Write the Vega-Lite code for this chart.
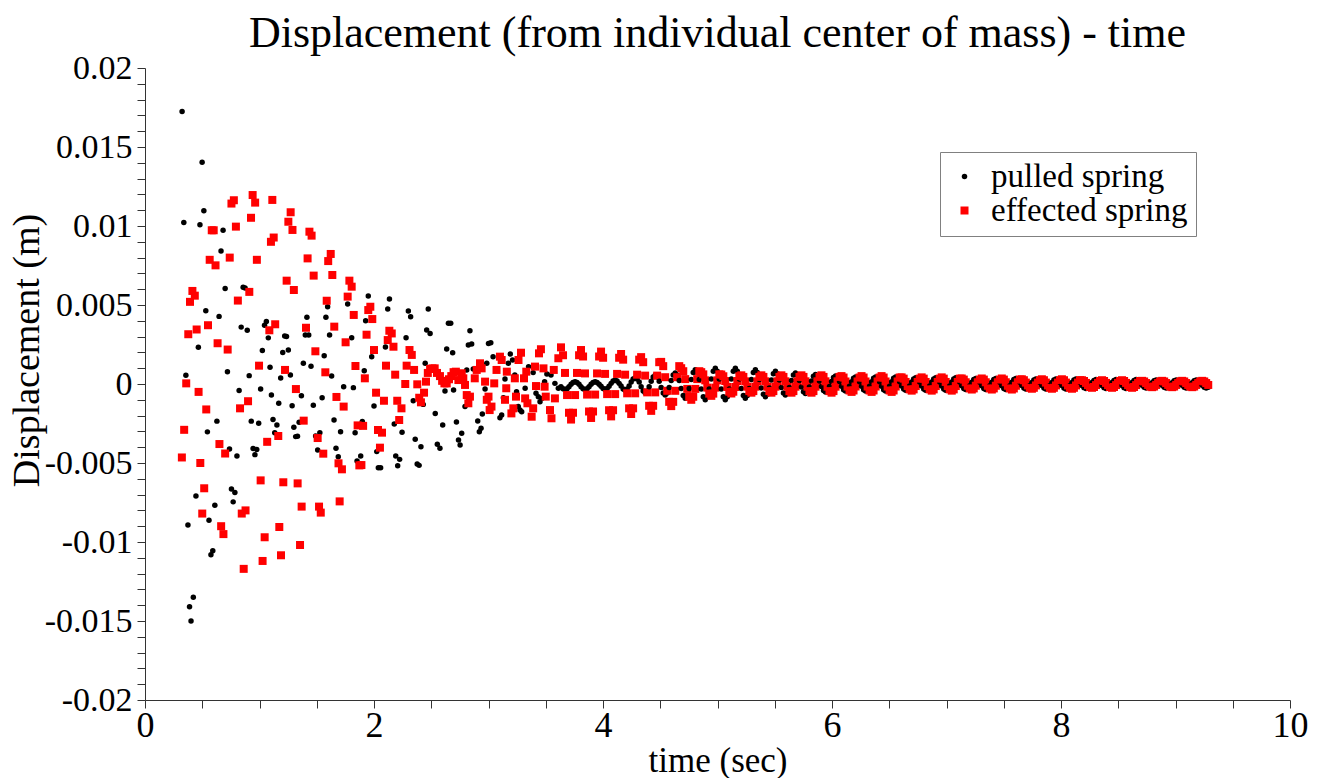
{
"$schema":"https://vega.github.io/schema/vega-lite/v6.json",
"width":1145,"height":632,
"autosize":{"type":"none"},
"padding":{"left":145,"top":68,"right":34,"bottom":78},
"background":"white",
"title":{"text":"Displacement (from individual center of mass) - time","font":"Liberation Serif","fontSize":44,"fontWeight":"normal","color":"black","anchor":"middle","offset":-5},
"config":{"view":{"stroke":null}},
"data":{"values":[
{"t":0.324,"p":0.01724},{"t":0.339,"p":0.01022},{"t":0.357,"p":0.00055},{"t":0.375,"p":-0.00892},{"t":0.389,"p":-0.0141},{"t":0.402,"p":-0.015},{"t":0.422,"p":-0.0135},{"t":0.445,"p":-0.00709},{"t":0.466,"p":0.00232},{"t":0.48,"p":0.01008},{"t":0.499,"p":0.01404},{"t":0.514,"p":0.01096},{"t":0.531,"p":0.00463},{"t":0.545,"p":-0.00303},{"t":0.559,"p":-0.00862},{"t":0.576,"p":-0.0108},{"t":0.592,"p":-0.01056},{"t":0.61,"p":-0.00768},{"t":0.628,"p":-0.00235},{"t":0.647,"p":0.00428},{"t":0.664,"p":0.00842},{"t":0.682,"p":0.00973},{"t":0.7,"p":0.00605},{"t":0.72,"p":0.00078},{"t":0.738,"p":-0.00412},{"t":0.755,"p":-0.00665},{"t":0.77,"p":-0.00746},{"t":0.785,"p":-0.00687},{"t":0.803,"p":-0.00456},{"t":0.822,"p":-0.00041},{"t":0.84,"p":0.0036},{"t":0.857,"p":0.00613},{"t":0.874,"p":0.00607},{"t":0.893,"p":0.0034},{"t":0.91,"p":0.00053},{"t":0.928,"p":-0.00235},{"t":0.944,"p":-0.00408},{"t":0.96,"p":-0.00447},{"t":0.976,"p":-0.00415},{"t":0.993,"p":-0.00249},{"t":1.01,"p":-0.00032},{"t":1.025,"p":0.00212},{"t":1.044,"p":0.00372},{"t":1.06,"p":0.00395},{"t":1.077,"p":0.00292},{"t":1.092,"p":0.00106},{"t":1.104,"p":-0.0007},{"t":1.118,"p":-0.00224},{"t":1.133,"p":-0.00308},{"t":1.152,"p":-0.00259},{"t":1.168,"p":-0.00122},{"t":1.185,"p":0.00038},{"t":1.203,"p":0.002},{"t":1.22,"p":0.00304},{"t":1.236,"p":0.003},{"t":1.252,"p":0.00215},{"t":1.27,"p":0.00057},{"t":1.285,"p":-0.00137},{"t":1.3,"p":-0.00274},{"t":1.316,"p":-0.00333},{"t":1.332,"p":-0.0033},{"t":1.346,"p":-0.00242},{"t":1.366,"p":-0.00074},{"t":1.383,"p":0.00131},{"t":1.4,"p":0.0031},{"t":1.414,"p":0.00422},{"t":1.43,"p":0.0031},{"t":1.45,"p":0.00112},{"t":1.47,"p":-0.00135},{"t":1.49,"p":-0.00329},{"t":1.508,"p":-0.00418},{"t":1.527,"p":-0.00308},{"t":1.547,"p":-0.00087},{"t":1.565,"p":0.00179},{"t":1.58,"p":0.00422},{"t":1.595,"p":0.00489},{"t":1.612,"p":0.0031},{"t":1.63,"p":0.00051},{"t":1.651,"p":-0.00228},{"t":1.668,"p":-0.00407},{"t":1.688,"p":-0.0046},{"t":1.708,"p":-0.00302},{"t":1.735,"p":-0.00017},{"t":1.77,"p":0.00506},{"t":1.805,"p":0.00293},{"t":1.82,"p":-0.00023},{"t":1.835,"p":-0.00308},{"t":1.852,"p":-0.00487},{"t":1.884,"p":-0.00456},{"t":1.898,"p":-0.00238},{"t":1.915,"p":0.00084},{"t":1.927,"p":0.004},{"t":1.95,"p":0.00557},{"t":1.98,"p":0.00173},{"t":2.0,"p":-0.00139},{"t":2.024,"p":-0.00428},{"t":2.038,"p":-0.0053},{"t":2.058,"p":-0.0053},{"t":2.1,"p":0.00234},{"t":2.12,"p":0.00475},{"t":2.135,"p":0.00538},{"t":2.177,"p":-0.00253},{"t":2.19,"p":-0.00456},{"t":2.207,"p":-0.00517},{"t":2.224,"p":-0.00477},{"t":2.245,"p":-0.00306},{"t":2.28,"p":0.00293},{"t":2.3,"p":0.00462},{"t":2.32,"p":0.00426},{"t":2.343,"p":-0.00106},{"t":2.36,"p":-0.0035},{"t":2.377,"p":-0.00506},{"t":2.394,"p":-0.00515},{"t":2.41,"p":-0.00397},{"t":2.43,"p":-0.00129},{"t":2.447,"p":0.00131},{"t":2.46,"p":0.00342},{"t":2.474,"p":0.00475},{"t":2.49,"p":0.0032},{"t":2.535,"p":-0.00186},{"t":2.553,"p":-0.00382},{"t":2.576,"p":-0.00407},{"t":2.6,"p":-0.00259},{"t":2.62,"p":-0.00044},{"t":2.635,"p":0.00222},{"t":2.65,"p":0.00384},{"t":2.67,"p":0.00384},{"t":2.687,"p":0.00198},{"t":2.695,"p":-0.00038},{"t":2.72,"p":-0.0024},{"t":2.738,"p":-0.00354},{"t":2.752,"p":-0.00386},{"t":2.766,"p":-0.00312},{"t":2.795,"p":-0.00143},{"t":2.81,"p":0.00089},{"t":2.824,"p":0.00247},{"t":2.838,"p":0.00337},{"t":2.853,"p":0.00253},{"t":2.867,"p":0.00095},{"t":2.906,"p":-0.00234},{"t":2.92,"p":-0.00302},{"t":2.935,"p":-0.0028},{"t":2.946,"p":-0.0019},{"t":2.97,"p":-0.00032},{"t":2.985,"p":0.00131},{"t":3.0,"p":0.00257},{"t":3.02,"p":0.00261},{"t":3.04,"p":0.00173},{"t":3.1,"p":-0.00213},{"t":3.115,"p":-0.00196},{"t":3.13,"p":-0.00087},{"t":3.144,"p":0.00032},{"t":3.173,"p":0.00131},{"t":3.19,"p":0.0019},{"t":3.21,"p":0.00152},{"t":3.23,"p":0.00057},{"t":3.245,"p":-0.00049},{"t":3.26,"p":-0.00143},{"t":3.275,"p":-0.00165},{"t":3.29,"p":-0.00175},{"t":3.32,"p":-0.00027},{"t":3.35,"p":0.0011},{"t":3.39,"p":0.00072},{"t":3.415,"p":-0.00059},{"t":3.435,"p":-0.0008},{"t":3.45,"p":-0.00112},{"t":3.465,"p":-0.00091},{"t":3.49,"p":0.00015},{"t":3.51,"p":0.00063},{"t":3.546,"p":0.00057},{"t":3.58,"p":0.00004},{"t":3.61,"p":-0.00027},{"t":3.633,"p":-0.00018},
{"t":0.322,"e":-0.00465},{"t":0.342,"e":-0.0029},{"t":0.36,"e":0.00004},{"t":0.378,"e":0.00315},{"t":0.393,"e":0.0052},{"t":0.414,"e":0.00589},{"t":0.435,"e":0.00559},{"t":0.451,"e":0.00345},{"t":0.468,"e":-0.0005},{"t":0.483,"e":-0.005},{"t":0.5,"e":-0.0082},{"t":0.517,"e":-0.0066},{"t":0.535,"e":-0.00161},{"t":0.55,"e":0.00372},{"t":0.565,"e":0.00786},{"t":0.583,"e":0.00973},{"t":0.6,"e":0.00973},{"t":0.616,"e":0.00751},{"t":0.634,"e":0.00258},{"t":0.65,"e":-0.0038},{"t":0.665,"e":-0.009},{"t":0.685,"e":-0.0095},{"t":0.7,"e":-0.0044},{"t":0.722,"e":0.00218},{"t":0.74,"e":0.008},{"t":0.755,"e":0.01142},{"t":0.776,"e":0.01163},{"t":0.794,"e":0.00996},{"t":0.811,"e":0.00528},{"t":0.83,"e":-0.00154},{"t":0.845,"e":-0.0082},{"t":0.862,"e":-0.0117},{"t":0.878,"e":-0.008},{"t":0.9,"e":-0.00109},{"t":0.911,"e":0.00583},{"t":0.926,"e":0.01052},{"t":0.94,"e":0.01196},{"t":0.962,"e":0.01148},{"t":0.977,"e":0.00786},{"t":0.996,"e":0.00116},{"t":1.01,"e":-0.0061},{"t":1.027,"e":-0.0112},{"t":1.045,"e":-0.0097},{"t":1.067,"e":-0.00366},{"t":1.086,"e":0.0034},{"t":1.1,"e":0.009},{"t":1.112,"e":0.01165},{"t":1.124,"e":0.00927},{"t":1.137,"e":0.00378},{"t":1.164,"e":-0.00329},{"t":1.173,"e":-0.00905},{"t":1.188,"e":-0.01084},{"t":1.208,"e":-0.00622},{"t":1.223,"e":0.00089},{"t":1.237,"e":0.00654},{"t":1.252,"e":0.01027},{"t":1.272,"e":0.01087},{"t":1.288,"e":0.00975},{"t":1.3,"e":0.00595},{"t":1.318,"e":-0.00032},{"t":1.333,"e":-0.00629},{"t":1.354,"e":-0.01019},{"t":1.368,"e":-0.00776},{"t":1.386,"e":-0.00232},{"t":1.406,"e":0.00356},{"t":1.42,"e":0.00795},{"t":1.436,"e":0.00964},{"t":1.455,"e":0.00939},{"t":1.473,"e":0.00686},{"t":1.488,"e":0.00207},{"t":1.508,"e":-0.00342},{"t":1.52,"e":-0.00776},{"t":1.535,"e":-0.00814},{"t":1.557,"e":-0.00441},{"t":1.575,"e":0.00074},{"t":1.587,"e":0.00527},{"t":1.6,"e":0.00778},{"t":1.622,"e":0.00823},{"t":1.636,"e":0.0069},{"t":1.653,"e":0.00363},{"t":1.672,"e":-0.00082},{"t":1.69,"e":-0.00502},{"t":1.7,"e":-0.00743},{"t":1.72,"e":-0.0054},{"t":1.735,"e":-0.00143},{"t":1.752,"e":0.00264},{"t":1.77,"e":0.00553},{"t":1.785,"e":0.00654},{"t":1.805,"e":0.00616},{"t":1.823,"e":0.00437},{"t":1.838,"e":0.00114},{"t":1.857,"e":-0.00262},{"t":1.872,"e":-0.00515},{"t":1.89,"e":-0.00513},{"t":1.905,"e":-0.00265},{"t":1.92,"e":0.00036},{"t":1.935,"e":0.00312},{"t":1.95,"e":0.00468},{"t":1.968,"e":0.00489},{"t":1.985,"e":0.00411},{"t":2.0,"e":0.00215},{"t":2.018,"e":-0.00055},{"t":2.035,"e":-0.00291},{"t":2.052,"e":-0.00403},{"t":2.07,"e":-0.00308},{"t":2.087,"e":-0.00106},{"t":2.105,"e":0.00116},{"t":2.12,"e":0.00278},{"t":2.134,"e":0.00337},{"t":2.155,"e":0.0032},{"t":2.17,"e":0.00236},{"t":2.185,"e":0.00059},{"t":2.203,"e":-0.00106},{"t":2.22,"e":-0.00228},{"t":2.24,"e":-0.00154},{"t":2.273,"e":0.0},{"t":2.285,"e":0.00116},{"t":2.31,"e":0.00215},{"t":2.33,"e":0.00184},{"t":2.35,"e":0.00089},{"t":2.378,"e":-0.00002},{"t":2.395,"e":-0.00087},{"t":2.41,"e":-0.00116},{"t":2.437,"e":-0.00055},{"t":2.454,"e":0.00015},{"t":2.47,"e":0.0007},{"t":2.49,"e":0.00095},{"t":2.51,"e":0.00099},{"t":2.53,"e":0.00099},{"t":2.55,"e":0.0007},{"t":2.576,"e":0.0005},{"t":2.595,"e":0.0002},{"t":2.615,"e":0.00004},{"t":2.635,"e":0.00004},{"t":2.655,"e":0.0003},{"t":2.675,"e":0.0005},{"t":2.695,"e":0.00075},{"t":2.715,"e":0.00078},{"t":2.737,"e":0.00025},{"t":2.766,"e":0.00068},{"t":2.78,"e":0.00036},{"t":2.795,"e":-0.00006},{"t":2.81,"e":-0.0007},{"t":2.824,"e":-0.00122},{"t":2.838,"e":-0.0008},{"t":2.88,"e":0.00036},{"t":2.897,"e":0.00089},{"t":2.926,"e":0.00131},{"t":2.94,"e":0.00099},{"t":2.97,"e":0.00015},{"t":2.985,"e":-0.001},{"t":3.0,"e":-0.0008},{"t":3.01,"e":-0.00165},{"t":3.026,"e":-0.00143},{"t":3.05,"e":0.00004},{"t":3.07,"e":0.00089},{"t":3.1,"e":0.00173},{"t":3.115,"e":0.00152},{"t":3.144,"e":-0.001},{"t":3.155,"e":-0.00027},{"t":3.16,"e":0.00078},{"t":3.2,"e":-0.00186},{"t":3.217,"e":-0.00154},{"t":3.23,"e":0.00036},{"t":3.24,"e":-0.0008},{"t":3.262,"e":0.00152},{"t":3.284,"e":0.00198},{"t":3.31,"e":0.00036},{"t":3.32,"e":-0.00091},{"t":3.33,"e":0.00078},{"t":3.34,"e":-0.00122},{"t":3.377,"e":-0.00207},{"t":3.39,"e":-0.00154},{"t":3.406,"e":0.0011},{"t":3.415,"e":-0.00013},{"t":3.441,"e":0.00194},{"t":3.458,"e":0.0022},{"t":3.48,"e":0.00099},{"t":3.49,"e":-0.00017},{"t":3.5,"e":-0.0008},{"t":3.537,"e":-0.00165},{"t":3.55,"e":-0.00217},{"t":3.57,"e":0.00089},{"t":3.58,"e":-0.00091},{"t":3.61,"e":0.00163},{"t":3.633,"e":0.00232},
{"t":3.651,"e":0.00182,"p":-0.0003},{"t":3.668,"e":0.0007,"p":-0.00035},{"t":3.686,"e":-0.0007,"p":-0.0003},{"t":3.703,"e":-0.00182,"p":-0.00018},{"t":3.721,"e":-0.00225,"p":-0.00002},{"t":3.738,"e":-0.00182,"p":0.0001},{"t":3.756,"e":-0.0007,"p":0.00015},{"t":3.773,"e":0.0007,"p":0.0001},{"t":3.791,"e":0.00182,"p":-0.00002},
{"t":3.808,"e":0.00215,"p":-0.00018},{"t":3.826,"e":0.00174,"p":-0.0003},{"t":3.843,"e":0.00067,"p":-0.00035},{"t":3.861,"e":-0.00067,"p":-0.0003},{"t":3.878,"e":-0.00174,"p":-0.00018},{"t":3.896,"e":-0.00215,"p":-0.00002},{"t":3.913,"e":-0.00174,"p":0.0001},{"t":3.931,"e":-0.00067,"p":0.00015},{"t":3.948,"e":0.00067,"p":0.0001},{"t":3.966,"e":0.00174,"p":-0.00002},
{"t":3.983,"e":0.00205,"p":-0.00014},{"t":4.001,"e":0.00166,"p":-0.00029},{"t":4.018,"e":0.00064,"p":-0.00035},{"t":4.036,"e":-0.00064,"p":-0.00029},{"t":4.053,"e":-0.00166,"p":-0.00014},{"t":4.071,"e":-0.00205,"p":0.00004},{"t":4.088,"e":-0.00166,"p":0.00019},{"t":4.106,"e":-0.00064,"p":0.00025},{"t":4.123,"e":0.00064,"p":0.00019},{"t":4.141,"e":0.00166,"p":0.00004},
{"t":4.158,"e":0.0019,"p":-0.00012},{"t":4.176,"e":0.00154,"p":-0.00032},{"t":4.193,"e":0.00059,"p":-0.0004},{"t":4.211,"e":-0.00059,"p":-0.00032},{"t":4.228,"e":-0.00154,"p":-0.00012},{"t":4.246,"e":-0.0019,"p":0.00012},{"t":4.263,"e":-0.00154,"p":0.00032},{"t":4.281,"e":-0.00059,"p":0.0004},{"t":4.298,"e":0.00059,"p":0.00032},{"t":4.316,"e":0.00154,"p":0.00012},
{"t":4.333,"e":0.0017,"p":-0.00017},{"t":4.351,"e":0.00138,"p":-0.00045},{"t":4.368,"e":0.00053,"p":-0.00055},{"t":4.386,"e":-0.00053,"p":-0.00045},{"t":4.403,"e":-0.00138,"p":-0.00017},{"t":4.421,"e":-0.0017,"p":0.00017},{"t":4.438,"e":-0.00138,"p":0.00045},{"t":4.456,"e":-0.00053,"p":0.00055},{"t":4.473,"e":0.00053,"p":0.00045},{"t":4.491,"e":0.00138,"p":0.00017},
{"t":4.508,"e":0.0014,"p":-0.00022},{"t":4.526,"e":0.00113,"p":-0.00057},{"t":4.543,"e":0.00043,"p":-0.0007},{"t":4.561,"e":-0.00043,"p":-0.00057},{"t":4.578,"e":-0.00113,"p":-0.00022},{"t":4.596,"e":-0.0014,"p":0.00022},{"t":4.613,"e":-0.00113,"p":0.00057},{"t":4.631,"e":-0.00043,"p":0.0007},{"t":4.648,"e":0.00043,"p":0.00057},{"t":4.666,"e":0.00113,"p":0.00022},
{"t":4.683,"e":0.001,"p":-0.00028},{"t":4.701,"e":0.00081,"p":-0.00073},{"t":4.718,"e":0.00031,"p":-0.0009},{"t":4.736,"e":-0.00031,"p":-0.00073},{"t":4.753,"e":-0.00081,"p":-0.00028},{"t":4.771,"e":-0.001,"p":0.00028},{"t":4.788,"e":-0.00081,"p":0.00073},{"t":4.806,"e":-0.00031,"p":0.0009},{"t":4.823,"e":0.00031,"p":0.00073},{"t":4.841,"e":0.00081,"p":0.00028},
{"t":4.858,"e":0.00075,"p":-0.00031},{"t":4.876,"e":0.00061,"p":-0.00081},{"t":4.893,"e":0.00023,"p":-0.001},{"t":4.911,"e":-0.00023,"p":-0.00081},{"t":4.928,"e":-0.00061,"p":-0.00031},{"t":4.946,"e":-0.00075,"p":0.00031},{"t":4.963,"e":-0.00061,"p":0.00081},{"t":4.981,"e":-0.00023,"p":0.001},{"t":4.998,"e":0.00023,"p":0.00081},{"t":5.016,"e":0.00061,"p":0.00031},
{"t":5.033,"e":0.0006,"p":-0.00031},{"t":5.051,"e":0.00049,"p":-0.00081},{"t":5.068,"e":0.00019,"p":-0.001},{"t":5.086,"e":-0.00019,"p":-0.00081},{"t":5.103,"e":-0.00049,"p":-0.00031},{"t":5.121,"e":-0.0006,"p":0.00031},{"t":5.138,"e":-0.00049,"p":0.00081},{"t":5.156,"e":-0.00019,"p":0.001},{"t":5.173,"e":0.00019,"p":0.00081},{"t":5.191,"e":0.00049,"p":0.00031},
{"t":5.208,"e":0.00055,"p":-0.00028},{"t":5.226,"e":0.00045,"p":-0.00073},{"t":5.243,"e":0.00017,"p":-0.0009},{"t":5.261,"e":-0.00017,"p":-0.00073},{"t":5.278,"e":-0.00045,"p":-0.00028},{"t":5.296,"e":-0.00055,"p":0.00028},{"t":5.313,"e":-0.00045,"p":0.00073},{"t":5.331,"e":-0.00017,"p":0.0009},{"t":5.348,"e":0.00017,"p":0.00073},{"t":5.366,"e":0.00045,"p":0.00028},
{"t":5.383,"e":0.00055,"p":-0.00025},{"t":5.401,"e":0.00045,"p":-0.00065},{"t":5.418,"e":0.00017,"p":-0.0008},{"t":5.436,"e":-0.00017,"p":-0.00065},{"t":5.453,"e":-0.00045,"p":-0.00025},{"t":5.471,"e":-0.00055,"p":0.00025},{"t":5.488,"e":-0.00045,"p":0.00065},{"t":5.506,"e":-0.00017,"p":0.0008},{"t":5.523,"e":0.00017,"p":0.00065},{"t":5.541,"e":0.00045,"p":0.00025},
{"t":5.558,"e":0.00055,"p":-0.00022},{"t":5.576,"e":0.00045,"p":-0.00057},{"t":5.593,"e":0.00017,"p":-0.0007},{"t":5.611,"e":-0.00017,"p":-0.00057},{"t":5.628,"e":-0.00045,"p":-0.00022},{"t":5.646,"e":-0.00055,"p":0.00022},{"t":5.663,"e":-0.00045,"p":0.00057},{"t":5.681,"e":-0.00017,"p":0.0007},{"t":5.698,"e":0.00017,"p":0.00057},{"t":5.716,"e":0.00045,"p":0.00022},
{"t":5.733,"e":0.00055,"p":-0.00019},{"t":5.751,"e":0.00045,"p":-0.00049},{"t":5.768,"e":0.00017,"p":-0.0006},{"t":5.786,"e":-0.00017,"p":-0.00049},{"t":5.803,"e":-0.00045,"p":-0.00019},{"t":5.821,"e":-0.00055,"p":0.00019},{"t":5.838,"e":-0.00045,"p":0.00049},{"t":5.856,"e":-0.00017,"p":0.0006},{"t":5.873,"e":0.00017,"p":0.00049},{"t":5.891,"e":0.00045,"p":0.00019},
{"t":5.908,"e":0.00055,"p":-0.00016},{"t":5.926,"e":0.00045,"p":-0.00041},{"t":5.943,"e":0.00017,"p":-0.0005},{"t":5.961,"e":-0.00017,"p":-0.00041},{"t":5.978,"e":-0.00045,"p":-0.00016},{"t":5.996,"e":-0.00055,"p":0.00016},{"t":6.013,"e":-0.00045,"p":0.00041},{"t":6.031,"e":-0.00017,"p":0.0005},{"t":6.048,"e":0.00017,"p":0.00041},{"t":6.066,"e":0.00045,"p":0.00016},
{"t":6.083,"e":0.0005,"p":-0.00014},{"t":6.101,"e":0.00041,"p":-0.00036},{"t":6.118,"e":0.00016,"p":-0.00045},{"t":6.136,"e":-0.00016,"p":-0.00036},{"t":6.153,"e":-0.00041,"p":-0.00014},{"t":6.171,"e":-0.0005,"p":0.00014},{"t":6.188,"e":-0.00041,"p":0.00036},{"t":6.206,"e":-0.00016,"p":0.00045},{"t":6.223,"e":0.00016,"p":0.00036},{"t":6.241,"e":0.00041,"p":0.00014},
{"t":6.258,"e":0.0005,"p":-0.00014},{"t":6.276,"e":0.00041,"p":-0.00036},{"t":6.293,"e":0.00016,"p":-0.00045},{"t":6.311,"e":-0.00016,"p":-0.00036},{"t":6.328,"e":-0.00041,"p":-0.00014},{"t":6.346,"e":-0.0005,"p":0.00014},{"t":6.363,"e":-0.00041,"p":0.00036},{"t":6.381,"e":-0.00016,"p":0.00045},{"t":6.398,"e":0.00016,"p":0.00036},{"t":6.416,"e":0.00041,"p":0.00014},
{"t":6.433,"e":0.0005,"p":-0.00014},{"t":6.451,"e":0.00041,"p":-0.00036},{"t":6.468,"e":0.00016,"p":-0.00045},{"t":6.486,"e":-0.00016,"p":-0.00036},{"t":6.503,"e":-0.00041,"p":-0.00014},{"t":6.521,"e":-0.0005,"p":0.00014},{"t":6.538,"e":-0.00041,"p":0.00036},{"t":6.556,"e":-0.00016,"p":0.00045},{"t":6.573,"e":0.00016,"p":0.00036},{"t":6.591,"e":0.00041,"p":0.00014},
{"t":6.608,"e":0.00042,"p":-0.00012},{"t":6.626,"e":0.00034,"p":-0.00032},{"t":6.643,"e":0.00013,"p":-0.0004},{"t":6.661,"e":-0.00013,"p":-0.00032},{"t":6.678,"e":-0.00034,"p":-0.00012},{"t":6.696,"e":-0.00042,"p":0.00012},{"t":6.713,"e":-0.00034,"p":0.00032},{"t":6.731,"e":-0.00013,"p":0.0004},{"t":6.748,"e":0.00013,"p":0.00032},{"t":6.766,"e":0.00034,"p":0.00012},
{"t":6.783,"e":0.00042,"p":-0.00012},{"t":6.801,"e":0.00034,"p":-0.00032},{"t":6.818,"e":0.00013,"p":-0.0004},{"t":6.836,"e":-0.00013,"p":-0.00032},{"t":6.853,"e":-0.00034,"p":-0.00012},{"t":6.871,"e":-0.00042,"p":0.00012},{"t":6.888,"e":-0.00034,"p":0.00032},{"t":6.906,"e":-0.00013,"p":0.0004},{"t":6.923,"e":0.00013,"p":0.00032},{"t":6.941,"e":0.00034,"p":0.00012},
{"t":6.958,"e":0.00042,"p":-0.00012},{"t":6.976,"e":0.00034,"p":-0.00032},{"t":6.993,"e":0.00013,"p":-0.0004},{"t":7.011,"e":-0.00013,"p":-0.00032},{"t":7.028,"e":-0.00034,"p":-0.00012},{"t":7.046,"e":-0.00042,"p":0.00012},{"t":7.063,"e":-0.00034,"p":0.00032},{"t":7.081,"e":-0.00013,"p":0.0004},{"t":7.098,"e":0.00013,"p":0.00032},{"t":7.116,"e":0.00034,"p":0.00012},
{"t":7.133,"e":0.00035,"p":-0.00011},{"t":7.151,"e":0.00028,"p":-0.00028},{"t":7.168,"e":0.00011,"p":-0.00035},{"t":7.186,"e":-0.00011,"p":-0.00028},{"t":7.203,"e":-0.00028,"p":-0.00011},{"t":7.221,"e":-0.00035,"p":0.00011},{"t":7.238,"e":-0.00028,"p":0.00028},{"t":7.256,"e":-0.00011,"p":0.00035},{"t":7.273,"e":0.00011,"p":0.00028},{"t":7.291,"e":0.00028,"p":0.00011},
{"t":7.308,"e":0.00035,"p":-0.00011},{"t":7.326,"e":0.00028,"p":-0.00028},{"t":7.343,"e":0.00011,"p":-0.00035},{"t":7.361,"e":-0.00011,"p":-0.00028},{"t":7.378,"e":-0.00028,"p":-0.00011},{"t":7.396,"e":-0.00035,"p":0.00011},{"t":7.413,"e":-0.00028,"p":0.00028},{"t":7.431,"e":-0.00011,"p":0.00035},{"t":7.448,"e":0.00011,"p":0.00028},{"t":7.466,"e":0.00028,"p":0.00011},
{"t":7.483,"e":0.00035,"p":-0.00011},{"t":7.501,"e":0.00028,"p":-0.00028},{"t":7.518,"e":0.00011,"p":-0.00035},{"t":7.536,"e":-0.00011,"p":-0.00028},{"t":7.553,"e":-0.00028,"p":-0.00011},{"t":7.571,"e":-0.00035,"p":0.00011},{"t":7.588,"e":-0.00028,"p":0.00028},{"t":7.606,"e":-0.00011,"p":0.00035},{"t":7.623,"e":0.00011,"p":0.00028},{"t":7.641,"e":0.00028,"p":0.00011},
{"t":7.658,"e":0.0003,"p":-0.0001},{"t":7.676,"e":0.00024,"p":-0.00026},{"t":7.693,"e":0.00009,"p":-0.00032},{"t":7.711,"e":-0.00009,"p":-0.00026},{"t":7.728,"e":-0.00024,"p":-0.0001},{"t":7.746,"e":-0.0003,"p":0.0001},{"t":7.763,"e":-0.00024,"p":0.00026},{"t":7.781,"e":-0.00009,"p":0.00032},{"t":7.798,"e":0.00009,"p":0.00026},{"t":7.816,"e":0.00024,"p":0.0001},
{"t":7.833,"e":0.0003,"p":-0.0001},{"t":7.851,"e":0.00024,"p":-0.00026},{"t":7.868,"e":0.00009,"p":-0.00032},{"t":7.886,"e":-0.00009,"p":-0.00026},{"t":7.903,"e":-0.00024,"p":-0.0001},{"t":7.921,"e":-0.0003,"p":0.0001},{"t":7.938,"e":-0.00024,"p":0.00026},{"t":7.956,"e":-0.00009,"p":0.00032},{"t":7.973,"e":0.00009,"p":0.00026},{"t":7.991,"e":0.00024,"p":0.0001},
{"t":8.008,"e":0.0003,"p":-0.0001},{"t":8.026,"e":0.00024,"p":-0.00026},{"t":8.043,"e":0.00009,"p":-0.00032},{"t":8.061,"e":-0.00009,"p":-0.00026},{"t":8.078,"e":-0.00024,"p":-0.0001},{"t":8.096,"e":-0.0003,"p":0.0001},{"t":8.113,"e":-0.00024,"p":0.00026},{"t":8.131,"e":-0.00009,"p":0.00032},{"t":8.148,"e":0.00009,"p":0.00026},{"t":8.166,"e":0.00024,"p":0.0001},
{"t":8.183,"e":0.00024,"p":-0.00009},{"t":8.201,"e":0.00019,"p":-0.00023},{"t":8.218,"e":0.00007,"p":-0.00028},{"t":8.236,"e":-0.00007,"p":-0.00023},{"t":8.253,"e":-0.00019,"p":-0.00009},{"t":8.271,"e":-0.00024,"p":0.00009},{"t":8.288,"e":-0.00019,"p":0.00023},{"t":8.306,"e":-0.00007,"p":0.00028},{"t":8.323,"e":0.00007,"p":0.00023},{"t":8.341,"e":0.00019,"p":0.00009},
{"t":8.358,"e":0.00024,"p":-0.00009},{"t":8.376,"e":0.00019,"p":-0.00023},{"t":8.393,"e":0.00007,"p":-0.00028},{"t":8.411,"e":-0.00007,"p":-0.00023},{"t":8.428,"e":-0.00019,"p":-0.00009},{"t":8.446,"e":-0.00024,"p":0.00009},{"t":8.463,"e":-0.00019,"p":0.00023},{"t":8.481,"e":-0.00007,"p":0.00028},{"t":8.498,"e":0.00007,"p":0.00023},{"t":8.516,"e":0.00019,"p":0.00009},
{"t":8.533,"e":0.00024,"p":-0.00009},{"t":8.551,"e":0.00019,"p":-0.00023},{"t":8.568,"e":0.00007,"p":-0.00028},{"t":8.586,"e":-0.00007,"p":-0.00023},{"t":8.603,"e":-0.00019,"p":-0.00009},{"t":8.621,"e":-0.00024,"p":0.00009},{"t":8.638,"e":-0.00019,"p":0.00023},{"t":8.656,"e":-0.00007,"p":0.00028},{"t":8.673,"e":0.00007,"p":0.00023},{"t":8.691,"e":0.00019,"p":0.00009},
{"t":8.708,"e":0.0002,"p":-0.00008},{"t":8.726,"e":0.00016,"p":-0.0002},{"t":8.743,"e":0.00006,"p":-0.00025},{"t":8.761,"e":-0.00006,"p":-0.0002},{"t":8.778,"e":-0.00016,"p":-0.00008},{"t":8.796,"e":-0.0002,"p":0.00008},{"t":8.813,"e":-0.00016,"p":0.0002},{"t":8.831,"e":-0.00006,"p":0.00025},{"t":8.848,"e":0.00006,"p":0.0002},{"t":8.866,"e":0.00016,"p":0.00008},
{"t":8.883,"e":0.0002,"p":-0.00008},{"t":8.901,"e":0.00016,"p":-0.0002},{"t":8.918,"e":0.00006,"p":-0.00025},{"t":8.936,"e":-0.00006,"p":-0.0002},{"t":8.953,"e":-0.00016,"p":-0.00008},{"t":8.971,"e":-0.0002,"p":0.00008},{"t":8.988,"e":-0.00016,"p":0.0002},{"t":9.006,"e":-0.00006,"p":0.00025},{"t":9.023,"e":0.00006,"p":0.0002},{"t":9.041,"e":0.00016,"p":0.00008},
{"t":9.058,"e":0.0002,"p":-0.00008},{"t":9.076,"e":0.00016,"p":-0.0002},{"t":9.093,"e":0.00006,"p":-0.00025},{"t":9.111,"e":-0.00006,"p":-0.0002},{"t":9.128,"e":-0.00016,"p":-0.00008},{"t":9.146,"e":-0.0002,"p":0.00008},{"t":9.163,"e":-0.00016,"p":0.0002},{"t":9.181,"e":-0.00006,"p":0.00025},{"t":9.198,"e":0.00006,"p":0.0002},{"t":9.216,"e":0.00016,"p":0.00008},
{"t":9.233,"e":0.0002,"p":-0.00008},{"t":9.251,"e":0.00016,"p":-0.0002},{"t":9.268,"e":0.00006,"p":-0.00025},{"t":9.286,"e":-0.00006,"p":-0.0002}
]},
"transform":[{"fold":["p","e"],"as":["s","d"]},{"filter":"isValid(datum.d)"}],
"mark":{"type":"point","filled":true,"opacity":1,"strokeWidth":0},
"encoding":{
 "x":{"field":"t","type":"quantitative","scale":{"domain":[0,10],"nice":false},
  "axis":{"title":"time (sec)","values":[0,0.5,1,1.5,2,2.5,3,3.5,4,4.5,5,5.5,6,6.5,7,7.5,8,8.5,9,9.5,10],"labelExpr":"datum.value % 2 == 0 ? '' + datum.value : ''","labelFlush":false,"labelOverlap":false,"labelBound":false,"grid":false,"domainColor":"#333","tickColor":"#333","tickSize":8,"labelFont":"Liberation Serif","labelFontSize":36,"labelColor":"black","labelPadding":0,"titleFont":"Liberation Serif","titleFontSize":35,"titleFontWeight":"normal","titleColor":"black","titlePadding":0}},
 "y":{"field":"d","type":"quantitative","scale":{"domain":[-0.02,0.02],"nice":false,"zero":false},
  "axis":{"title":"Displacement (m)","values":[-0.02,-0.019,-0.018,-0.017,-0.016,-0.015,-0.014,-0.013,-0.012,-0.011,-0.01,-0.009,-0.008,-0.007,-0.006,-0.005,-0.004,-0.003,-0.002,-0.001,0,0.001,0.002,0.003,0.004,0.005,0.006,0.007,0.008,0.009,0.01,0.011,0.012,0.013,0.014,0.015,0.016,0.017,0.018,0.019,0.02],"labelExpr":"abs(round(datum.value*1000)) % 5 == 0 ? '' + round(datum.value*1000)/1000 : ''","labelOverlap":false,"labelBound":false,"labelFlush":false,"grid":false,"domainColor":"#333","tickColor":"#333","tickSize":8,"labelFont":"Liberation Serif","labelFontSize":34,"labelColor":"black","labelPadding":5,"titleFont":"Liberation Serif","titleFontSize":38,"titleFontWeight":"normal","titleColor":"black","titleX":-99,"titleY":282,"titleAngle":-90,"titleBaseline":"bottom","titleAlign":"center"}},
 "color":{"field":"s","type":"nominal","scale":{"domain":["p","e"],"range":["#000000","#ff0000"]},
  "legend":{"title":null,"orient":"none","legendX":795,"legendY":84,"fillColor":"white","strokeColor":"#808080","padding":8,"labelFont":"Liberation Serif","labelFontSize":33,"labelColor":"black","labelLimit":400,"symbolSize":36,"labelOffset":10,"rowPadding":0,"symbolStrokeWidth":0,"labelExpr":"datum.label == 'p' ? 'pulled spring' : 'effected spring'"}},
 "shape":{"field":"s","type":"nominal","scale":{"domain":["p","e"],"range":["circle","square"]},
  "legend":{"title":null,"orient":"none","legendX":795,"legendY":84,"fillColor":"white","strokeColor":"#808080","padding":8,"labelFont":"Liberation Serif","labelFontSize":33,"labelColor":"black","labelLimit":400,"symbolSize":36,"labelOffset":10,"rowPadding":0,"symbolStrokeWidth":0,"labelExpr":"datum.label == 'p' ? 'pulled spring' : 'effected spring'"}},
 "size":{"field":"s","type":"nominal","scale":{"domain":["p","e"],"range":[30,64]},"legend":null}
}
}
